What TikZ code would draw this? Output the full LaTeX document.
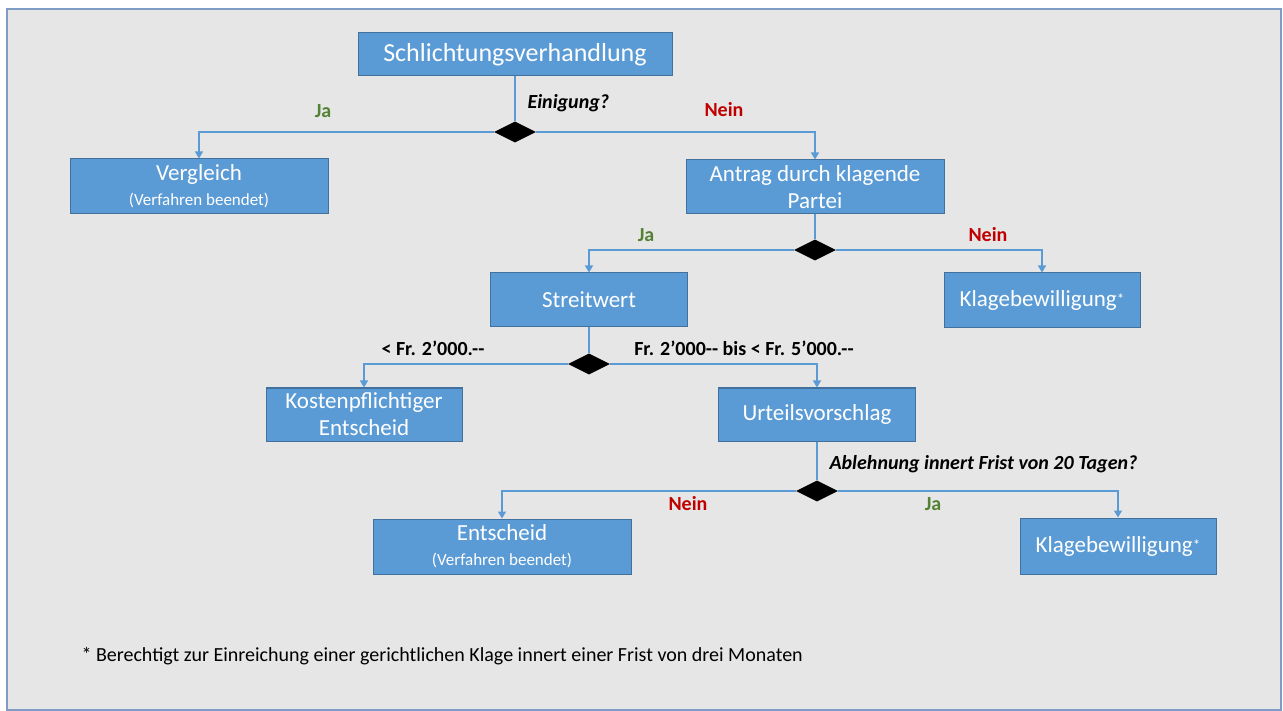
\documentclass[tikz,border=0pt]{standalone}
\usepackage{fontspec}
\setmainfont{Carlito}
\usetikzlibrary{shapes.geometric,arrows.meta}
\definecolor{boxfill}{HTML}{5B9BD5}
\definecolor{boxline}{HTML}{41719C}
\definecolor{bggray}{HTML}{E7E6E6}
\definecolor{framecol}{HTML}{7F9CC4}
\definecolor{jagreen}{HTML}{548235}
\definecolor{neinred}{HTML}{C00000}
\newcommand{\subtxt}{\fontsize{17}{20}\selectfont}
\newcommand{\fnstar}{\raisebox{2pt}{\fontsize{15}{15}\selectfont*}}
\tikzset{
  flowbox/.style={draw=boxline, line width=1pt, fill=boxfill, text=white, align=center,
    inner sep=0pt, font=\fontsize{23}{27}\selectfont},
  decide/.style={diamond, aspect=2, fill=black, draw=none, minimum width=42pt, minimum height=21pt, inner sep=0pt},
  conn/.style={draw=boxfill, line width=1.3pt},
  arr/.style={conn, -{Triangle[width=8pt,length=7pt]}},
  yeslbl/.style={text=jagreen, font=\fontsize{20}{24}\selectfont\bfseries},
  nolbl/.style={text=neinred, font=\fontsize{20}{24}\selectfont\bfseries},
  questionlbl/.style={font=\fontsize{20}{24}\selectfont\bfseries\itshape, anchor=west},
  amountlbl/.style={font=\fontsize{20}{24}\selectfont\bfseries}
}
\begin{document}
\begin{tikzpicture}[x=1pt,y=-1pt]
\useasboundingbox (0,0) rectangle (1283,711);
\fill[white] (0,0) rectangle (1283,711);
\draw[framecol, line width=1.5pt, fill=bggray] (7,9) rectangle (1281,710);

% boxes
\node[flowbox, minimum width=314pt, minimum height=43pt, font=\fontsize{26}{30}\selectfont] (schl) at (515,54.5) {Schlichtungsverhandlung};
\node[flowbox, minimum width=258pt, minimum height=55pt] (verg) at (199,186.5) {Vergleich\\[-2pt]{\subtxt(Verfahren beendet)}};
\node[flowbox, minimum width=258pt, minimum height=54pt] (antrag) at (815,187) {Antrag durch klagende\\Partei};
\node[flowbox, minimum width=197pt, minimum height=54pt] (streit) at (589,300) {Streitwert};
\node[flowbox, minimum width=196pt, minimum height=55pt] (klage1) at (1042,300.5) {Klagebewilligung\fnstar};
\node[flowbox, minimum width=196pt, minimum height=53pt] (kosten) at (364,414.5) {Kostenpflichtiger\\Entscheid};
\node[flowbox, minimum width=197pt, minimum height=53pt] (urteil) at (817,414.5) {Urteilsvorschlag};
\node[flowbox, minimum width=258pt, minimum height=55pt] (entsch) at (502,546.5) {Entscheid\\[-2pt]{\subtxt(Verfahren beendet)}};
\node[flowbox, minimum width=196pt, minimum height=56pt] (klage2) at (1118,546) {Klagebewilligung\fnstar};

% decisions
\node[decide] (d1) at (515,132) {};
\node[decide] (d2) at (815,250) {};
\node[decide] (d3) at (589,364) {};
\node[decide] (d4) at (817,491) {};

% connectors
\draw[conn] (schl.south) -- (d1.north);
\draw[arr] (d1.west) -| (verg.north);
\draw[arr] (d1.east) -| (antrag.north);
\draw[conn] (antrag.south) -- (d2.north);
\draw[arr] (d2.west) -| (streit.north);
\draw[arr] (d2.east) -| (klage1.north);
\draw[conn] (streit.south) -- (d3.north);
\draw[arr] (d3.west) -| (kosten.north);
\draw[arr] (d3.east) -| (urteil.north);
\draw[conn] (urteil.south) -- (d4.north);
\draw[arr] (d4.west) -| (entsch.north);
\draw[arr] (d4.east) -| (klage2.north);

% labels
\node[yeslbl] (l1) at (323,111) {Ja};
\node[questionlbl] (q1) at (524,103) {Einigung?};
\node[nolbl] (l2) at (724,110) {Nein};
\node[yeslbl] (l3) at (646,235) {Ja};
\node[nolbl] (l4) at (988,235) {Nein};
\node[amountlbl] (l5) at (433,348) {< Fr. 2’000.-{}-};
\node[amountlbl] (l6) at (744,348) {Fr. 2’000-{}- bis < Fr. 5’000.-{}-};
\node[questionlbl] (q2) at (826,464) {Ablehnung innert Frist von 20 Tagen?};
\node[nolbl] (l7) at (688,504) {Nein};
\node[yeslbl] (l8) at (933,504) {Ja};
\node[anchor=west, font=\fontsize{20}{24}\selectfont] (foot) at (78,656) {* Berechtigt zur Einreichung einer gerichtlichen Klage innert einer Frist von drei Monaten};
\end{tikzpicture}
\end{document}
